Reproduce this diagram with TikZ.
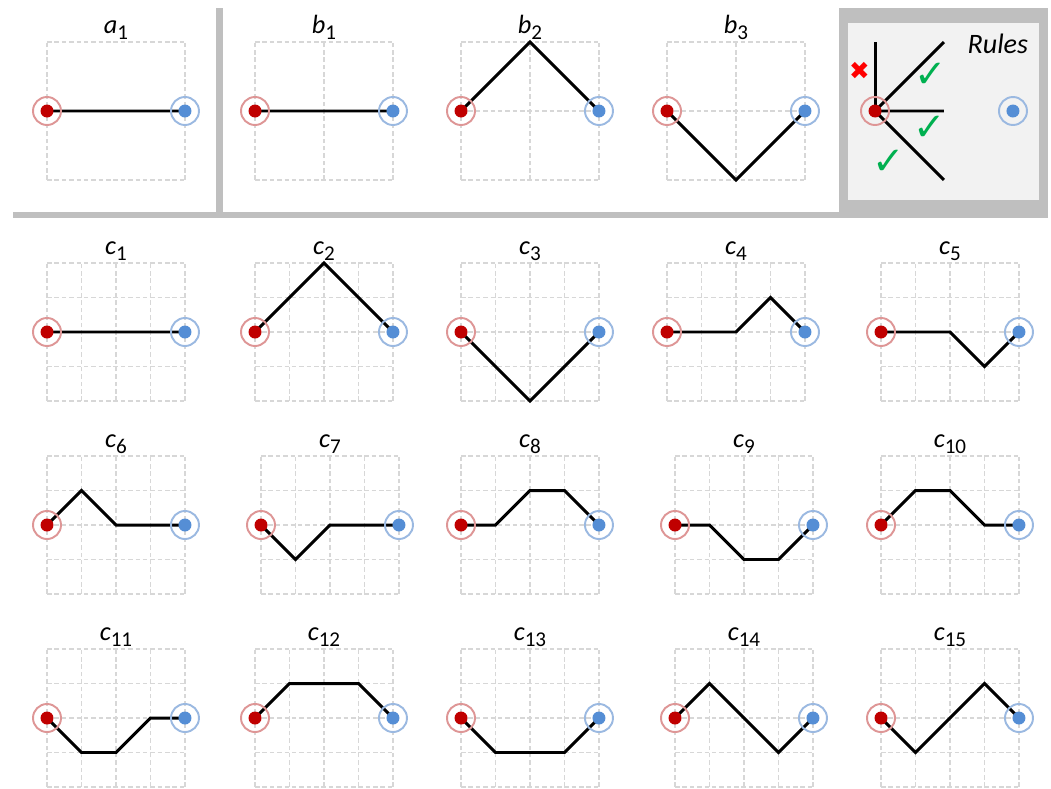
\documentclass[tikz,border=0pt]{standalone}
\usepackage{fontspec}
\setmainfont{Carlito}
\newfontfamily\symfont{DejaVu Sans}
\usepackage{xcolor}
\usepackage{tikz}
\usetikzlibrary{positioning}
\definecolor{srcred}{RGB}{192,0,0}
\definecolor{srcringred}{RGB}{222,150,150}
\definecolor{dstblue}{RGB}{85,142,213}
\definecolor{dstringblue}{RGB}{155,185,225}
\definecolor{gridgray}{RGB}{215,215,215}
\definecolor{bargray}{RGB}{191,191,191}
\definecolor{rulesbg}{RGB}{242,242,242}
\definecolor{okgreen}{RGB}{0,176,80}
\definecolor{badred}{RGB}{255,0,0}
\tikzset{
  gridline/.style={draw=gridgray, line width=0.85pt, dash pattern=on 2.6pt off 1.6pt},
  route/.style={line width=1.7pt, line join=miter},
  srcring/.style={draw=srcringred, line width=1.1pt},
  dstring/.style={draw=dstringblue, line width=1.1pt},
  paneltitle/.style={anchor=base, inner sep=0pt, font=\fontsize{15}{17}\selectfont},
  mark ok/.style={text=okgreen, inner sep=0pt, font=\symfont\fontsize{22}{22}\selectfont},
  mark bad/.style={text=badred, inner sep=0pt, font=\symfont\fontsize{14}{14}\selectfont},
}
% #1,#2: red end (px), #3: letter, #4: index, #5: grid step, #6: bends
\newcommand{\routepanel}[6]{%
  \begin{scope}[shift={(#1,#2)}, x=0.69cm, y=0.69cm]
    \foreach \k in {0,#5,...,4} {
      \draw[gridline] (\k,-2) -- (\k,2);
      \draw[gridline] (0,\k-2) -- (4,\k-2);
    }
    \node[paneltitle] (#3#4) at (2,2.26)
      {\itshape #3\upshape\raisebox{-3.6pt}{\fontsize{12}{12}\selectfont #4}};
    \coordinate (src) at (0,0);
    \coordinate (dst) at (4,0);
    % tiny slanted tail under the dot, else flat routes render thin
    \draw[route] (src) -- #6 (dst) -- ([shift={(0.6pt,0.6pt)}]dst);
    \draw[srcring] (src) circle (0.28cm);
    \fill[srcred] (src) circle (0.13cm);
    \draw[dstring] (dst) circle (0.28cm);
    \fill[dstblue] (dst) circle (0.13cm);
  \end{scope}}

\begin{document}
\begin{tikzpicture}[x=0.02cm, y=-0.02cm]
  \useasboundingbox (0,0) rectangle (1051,788);

  % separators and rules box
  \fill[bargray] (13,211.5) rectangle (845,218);
  \fill[bargray] (216,8) rectangle (223,212);
  \fill[bargray] (839,8) rectangle (1048,218);
  \fill[rulesbg] (848,23) rectangle (1039,200);

  \routepanel{47}{111}{a}{1}{4}{}
  \routepanel{255}{111}{b}{1}{2}{}
  \routepanel{461}{111}{b}{2}{2}{(2,2) --}
  \routepanel{667}{111}{b}{3}{2}{(2,-2) --}

  \begin{scope}[shift={(875,111)}, x=0.69cm, y=0.69cm]
    \coordinate (src) at (0,0);
    \coordinate (up) at (0,2);
    \coordinate (upright) at (2,2);
    \coordinate (right) at (2,0);
    \coordinate (downright) at (2,-2);
    \coordinate (dst) at (4,0);
    \foreach \e in {up,upright,downright}
      \draw[route] (src) -- (\e);
    \draw[route] ([shift={(-0.6pt,0.6pt)}]src) -- (src) -- (right);
    \draw[srcring] (src) circle (0.28cm);
    \fill[srcred] (src) circle (0.13cm);
    \draw[dstring] (dst) circle (0.28cm);
    \fill[dstblue] (dst) circle (0.13cm);
    \node[mark bad] (nogo) at (-0.45,1.16) {✖};
    \node[mark ok] (ok1) at (1.62,1.04) {✓};
    \node[mark ok] (ok2) at (1.59,-0.49) {✓};
    \node[mark ok] (ok3) at (0.41,-1.48) {✓};
    \node[anchor=base, inner sep=0pt, font=\itshape\fontsize{16}{18}\selectfont]
      (rules) at (3.56,1.68) {Rules};
  \end{scope}

  \routepanel{47}{332}{c}{1}{1}{}
  \routepanel{255}{332}{c}{2}{1}{(2,2) --}
  \routepanel{461}{332}{c}{3}{1}{(2,-2) --}
  \routepanel{667}{332}{c}{4}{1}{(2,0) -- (3,1) --}
  \routepanel{881}{332}{c}{5}{1}{(2,0) -- (3,-1) --}

  \routepanel{47}{525}{c}{6}{1}{(1,1) -- (2,0) --}
  \routepanel{261}{525}{c}{7}{1}{(1,-1) -- (2,0) --}
  \routepanel{461}{525}{c}{8}{1}{(1,0) -- (2,1) -- (3,1) --}
  \routepanel{675}{525}{c}{9}{1}{(1,0) -- (2,-1) -- (3,-1) --}
  \routepanel{881}{525}{c}{10}{1}{(1,1) -- (2,1) -- (3,0) --}

  \routepanel{47}{718}{c}{11}{1}{(1,-1) -- (2,-1) -- (3,0) --}
  \routepanel{255}{718}{c}{12}{1}{(1,1) -- (3,1) --}
  \routepanel{461}{718}{c}{13}{1}{(1,-1) -- (3,-1) --}
  \routepanel{675}{718}{c}{14}{1}{(1,1) -- (3,-1) --}
  \routepanel{881}{718}{c}{15}{1}{(1,-1) -- (3,1) --}
\end{tikzpicture}
\end{document}
